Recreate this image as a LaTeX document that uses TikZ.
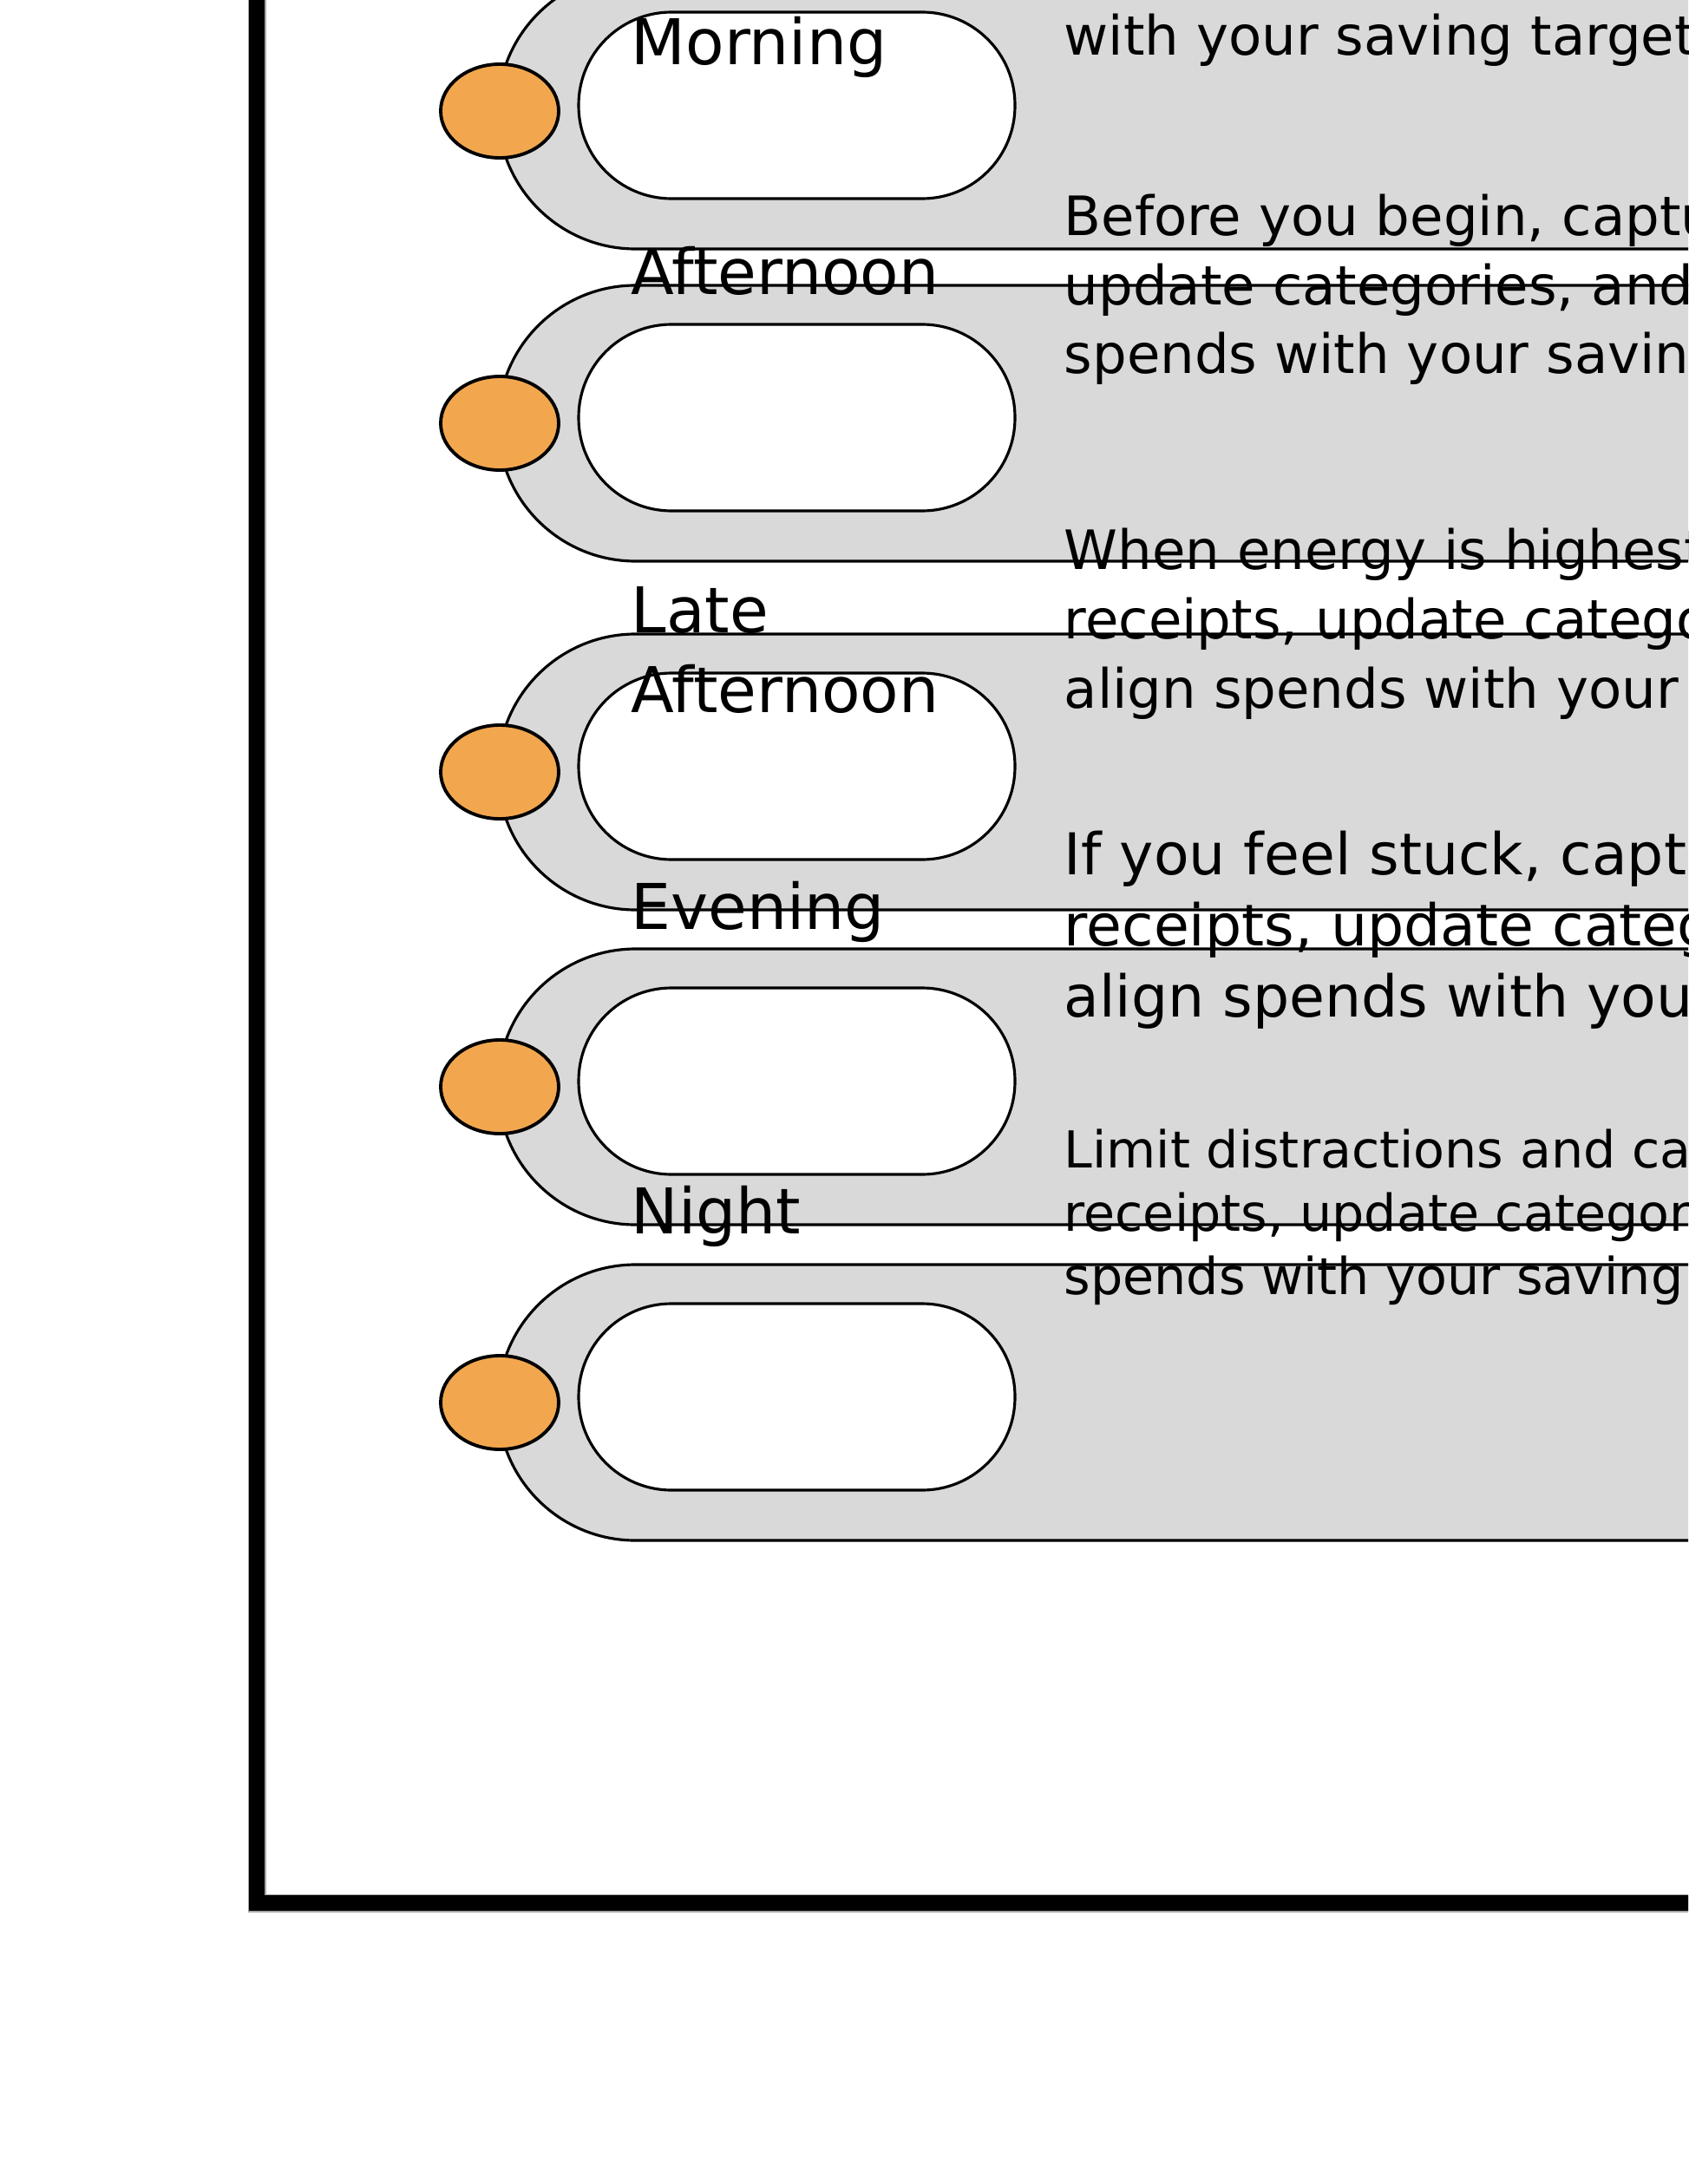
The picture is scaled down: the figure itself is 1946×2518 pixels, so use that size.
\documentclass[tikz,border=0pt]{standalone}
\usepackage{fontspec}
\setmainfont{DejaVu Sans}
\usepackage{xcolor}
\usetikzlibrary{shapes.geometric}
\definecolor{slotgrey}{HTML}{D9D9D9}
\definecolor{knoborange}{HTML}{F2A74F}
\definecolor{frameshade}{HTML}{A6A6A6}

\begin{document}
\begin{tikzpicture}[
  x=0.1mm, y=-0.1mm,
  band/.style={draw=black, line width=0.9pt, fill=slotgrey, rounded corners=15.85mm},
  slot/.style={rectangle, draw=black, line width=0.9pt, fill=white, rounded corners=10.7mm, minimum width=50.3mm, minimum height=21.5mm, inner sep=0pt},
  knob/.style={ellipse, draw=black, line width=1.1pt, fill=knoborange, minimum width=13.6mm, minimum height=10.8mm, inner sep=0pt},
  lbl/.style={anchor=base west, inner sep=0pt, align=left, font=\fontsize{20.7}{26}\selectfont},
  txt/.style={anchor=base west, inner sep=0pt, align=left, font=\fontsize{17.8}{22.7}\selectfont}
]
\useasboundingbox (0,0) rectangle (1946,2518);
\clip (0,0) rectangle (1946,2518);
\fill[white] (0,0) rectangle (1946,2518);
% frame
\draw[frameshade, line width=2.1mm] (296,-50) -- (296,2194) -- (2100,2194);
\draw[black, line width=1.8mm] (296,-50) -- (296,2194) -- (2100,2194);
% Morning
\draw[band] (2100,-31) -- (574,-31) -- (574,287) -- (2100,287);
\node[slot] (slot1) at (918.5,121.5) {};
\node[knob] (knob1) at (576,128) {};
\node[lbl] (lab1) at (727,75) {Morning};
\node[txt] (desc1) at (1226,64) {update categories, and align spends\\with your saving targets.};
% Afternoon
\draw[band] (2100,329) -- (574,329) -- (574,647) -- (2100,647);
\node[slot] (slot2) at (918.5,481.5) {};
\node[knob] (knob2) at (576,488) {};
\node[lbl] (lab2) at (727,340) {Afternoon};
\node[txt] (desc2) at (1226,431) {Before you begin, capture receipts,\\update categories, and align\\spends with your saving targets.};
% Late Afternoon
\draw[band] (2100,731) -- (574,731) -- (574,1049) -- (2100,1049);
\node[slot] (slot3) at (918.5,883.5) {};
\node[knob] (knob3) at (576,890) {};
\node[lbl] (lab3) at (727,821) {Late\\Afternoon};
\node[txt] (desc3) at (1226,816) {When energy is highest, capture\\receipts, update categories, and\\align spends with your saving targets.};
% Evening
\draw[band] (2100,1094) -- (574,1094) -- (574,1412) -- (2100,1412);
\node[slot] (slot4) at (918.5,1246.5) {};
\node[knob] (knob4) at (576,1253) {};
\node[lbl] (lab4) at (727,1071) {Evening};
\node[txt, font=\fontsize{18.9}{23.2}\selectfont] (desc4) at (1226,1172) {If you feel stuck, capture\\receipts, update categories, and\\align spends with your saving targets.};
% Night
\draw[band] (2100,1458) -- (574,1458) -- (574,1776) -- (2100,1776);
\node[slot] (slot5) at (918.5,1610.5) {};
\node[knob] (knob5) at (576,1617) {};
\node[lbl] (lab5) at (727,1422) {Night};
\node[txt, font=\fontsize{16.7}{20.7}\selectfont] (desc5) at (1226,1492) {Limit distractions and capture\\receipts, update categories, and align\\spends with your saving targets.};
\end{tikzpicture}
\end{document}
